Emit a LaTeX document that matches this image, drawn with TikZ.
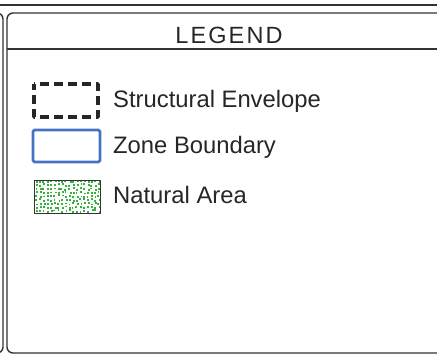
\documentclass[tikz,border=0pt]{standalone}
\usepackage{fontspec}
\setmainfont{Liberation Sans}
\newfontfamily\legendfont[LetterSpace=9]{Liberation Sans}
\usepackage{xcolor}
\usepackage{tikz}
\definecolor{zoneblue}{HTML}{4472C4}
\definecolor{naturegreen}{HTML}{36B03E}
\definecolor{framegray}{HTML}{333333}
\tikzset{frame/.style={draw=framegray,line width=1.4pt},
  itemtext/.style={anchor=base west,inner sep=0pt,text=black!85,font=\fontsize{23.8}{28}\selectfont}}

\begin{document}
\begin{tikzpicture}[x=1pt,y=-1pt,join=round]
\useasboundingbox (0,0) rectangle (437,354);
\begin{scope}
\clip (0,0) rectangle (437,354);
\draw[frame](-10,5)--(447,5);
\draw[frame,rounded corners=6pt](-30,13)--(3,13)--(3,353)--(-30,353);
\draw[frame,rounded corners=6pt](470,13)--(7,13)--(7,353)--(470,353);
\draw[frame](7,49)--(470,49);
\end{scope}
\node[anchor=base,inner sep=0pt,text=black!85,font=\legendfont\fontsize{23.5}{28}\selectfont] (legendtitle) at (229,43) {LEGEND};
\draw[black!85,line width=3.4pt,dash pattern=on 9pt off 5pt,dash phase=3pt](34,84) rectangle (98,117);
\draw[zoneblue,line width=2.8pt,rounded corners=1.5pt](33,130) rectangle (100,162);
\begin{scope}
\clip (34,180) rectangle (100,213);
\pgfmathsetseed{11}
\foreach \i in {0,...,17}
  \foreach \j in {0,...,8}{
    \pgfmathsetmacro\dx{rand*1.0}
    \pgfmathsetmacro\dy{rand*1.0}
    \fill[naturegreen]({35.5+3.7*\i+\dx},{182.5+3.7*\j+\dy}) rectangle ++(1.9,-1.9);
  }
\end{scope}
\draw[framegray,line width=1pt](34,180) rectangle (100,213);
\node[itemtext] (envelope) at (113,107) {Structural Envelope};
\node[itemtext] (zone) at (113,153) {Zone Boundary};
\node[itemtext] (natural) at (113,203) {Natural Area};
\end{tikzpicture}
\end{document}
